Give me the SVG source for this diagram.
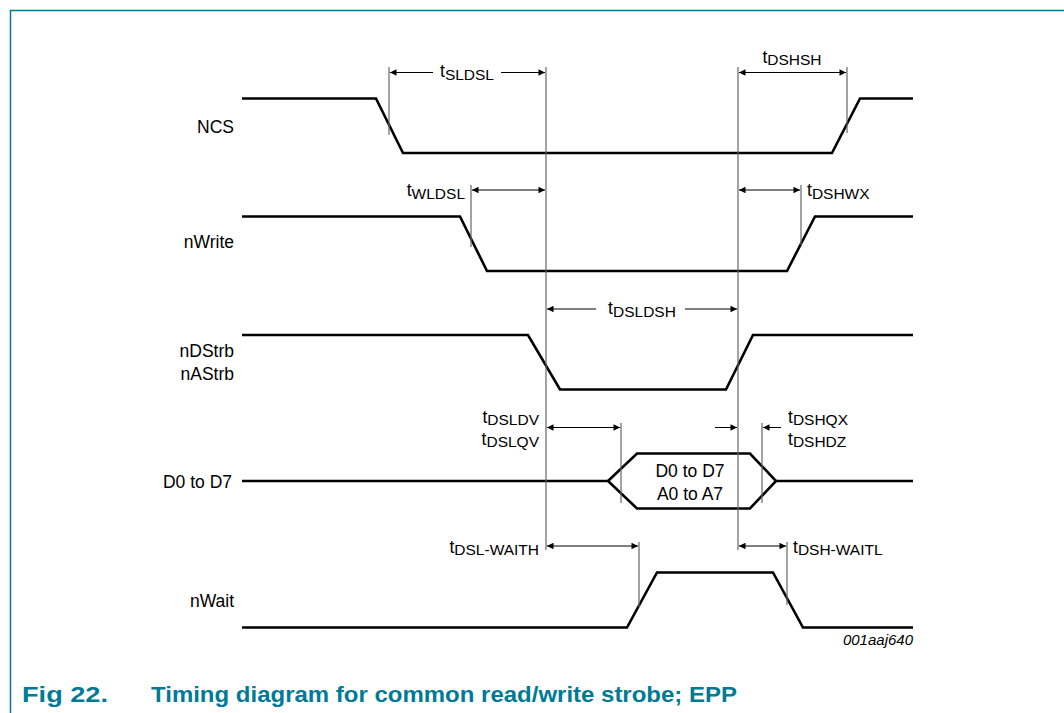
<svg xmlns="http://www.w3.org/2000/svg" width="1064" height="713" viewBox="0 0 1064 713">
<style>
.sig{fill:none;stroke:#000;stroke-width:2.6;stroke-linejoin:miter}
.ref{stroke:#666;stroke-width:1.2;fill:none}
.arr{stroke:#000;stroke-width:1;fill:none}
.lbl{font-family:"Liberation Sans",Arial,sans-serif;font-size:17.5px;fill:#000}
.sub{font-size:15.5px}
.id{font-family:"Liberation Sans",Arial,sans-serif;font-size:15px;font-style:italic;fill:#000}
.cap{font-family:"Liberation Sans",Arial,sans-serif;font-size:21.5px;font-weight:bold;fill:#007a96}
</style>
<defs>
<marker id="ah" viewBox="0 0 10 10" refX="10" refY="5" markerWidth="10" markerHeight="6.5" markerUnits="userSpaceOnUse" orient="auto-start-reverse">
<path d="M0,0 L10,5 L0,10 z" fill="#000"/>
</marker>
</defs>
<rect width="1064" height="713" fill="#fff"/>
<path d="M10.5,713 V10.5 H1064" fill="none" stroke="#007a96" stroke-width="1.5"/>

<g id="signals">
<g id="ncs">
<text class="lbl" x="234" y="133" text-anchor="end">NCS</text>
<polyline class="sig" points="242,98.5 376,98.5 403,153 832,153 860,98.5 913,98.5"/>
</g>
<g id="nwrite">
<text class="lbl" x="234" y="248" text-anchor="end">nWrite</text>
<polyline class="sig" points="242,216.5 460,216.5 487,271 787,271 815,216.5 913,216.5"/>
</g>
<g id="ndstrb">
<text class="lbl" x="234" y="357" text-anchor="end">nDStrb</text>
<text class="lbl" x="234" y="380" text-anchor="end">nAStrb</text>
<polyline class="sig" points="242,335 528,335 560,389.5 726,389.5 753,335 913,335"/>
</g>
<g id="data">
<text class="lbl" x="232" y="488" text-anchor="end">D0 to D7</text>
<polyline class="sig" points="242,481 608,481"/>
<polygon class="sig" points="608,481 637,453.5 750,453.5 776,481 750,508.5 637,508.5"/>
<polyline class="sig" points="776,481 913,481"/>
<text class="lbl" x="690" y="477" text-anchor="middle">D0 to D7</text>
<text class="lbl" x="690" y="500" text-anchor="middle">A0 to A7</text>
</g>
<g id="nwait">
<text class="lbl" x="234" y="607" text-anchor="end">nWait</text>
<polyline class="sig" points="242,627.5 627,627.5 657,572.5 773,572.5 803,627.5 913,627.5"/>
</g>
</g>

<g id="connectors">
<line class="ref" x1="546" y1="67" x2="546" y2="550"/>
<line class="ref" x1="738" y1="67" x2="738" y2="550"/>
<line class="ref" x1="389" y1="67" x2="389" y2="135"/>
<line class="ref" x1="847" y1="67" x2="847" y2="133"/>
<line class="ref" x1="471" y1="185" x2="471" y2="247"/>
<line class="ref" x1="801" y1="185" x2="801" y2="245"/>
<line class="ref" x1="621" y1="423" x2="621" y2="503"/>
<line class="ref" x1="762" y1="423" x2="762" y2="503"/>
<line class="ref" x1="639" y1="542" x2="639" y2="607"/>
<line class="ref" x1="787" y1="542" x2="787" y2="605"/>

<line class="arr" x1="433" y1="72.5" x2="390" y2="72.5" marker-end="url(#ah)"/>
<line class="arr" x1="501" y1="72.5" x2="545" y2="72.5" marker-end="url(#ah)"/>
<line class="arr" x1="739" y1="72.5" x2="846" y2="72.5" marker-start="url(#ah)" marker-end="url(#ah)"/>
<line class="arr" x1="472" y1="190" x2="545" y2="190" marker-start="url(#ah)" marker-end="url(#ah)"/>
<line class="arr" x1="739" y1="190" x2="800" y2="190" marker-start="url(#ah)" marker-end="url(#ah)"/>
<line class="arr" x1="596" y1="309" x2="547" y2="309" marker-end="url(#ah)"/>
<line class="arr" x1="685" y1="309" x2="737" y2="309" marker-end="url(#ah)"/>
<line class="arr" x1="547" y1="427.5" x2="620" y2="427.5" marker-start="url(#ah)" marker-end="url(#ah)"/>
<line class="arr" x1="715" y1="427.5" x2="737" y2="427.5" marker-end="url(#ah)"/>
<line class="arr" x1="781" y1="427.5" x2="763" y2="427.5" marker-end="url(#ah)"/>
<line class="arr" x1="547" y1="546" x2="638" y2="546" marker-start="url(#ah)" marker-end="url(#ah)"/>
<line class="arr" x1="739" y1="546" x2="786" y2="546" marker-start="url(#ah)" marker-end="url(#ah)"/>
</g>

<g id="timing-labels">
<text class="lbl" x="467" y="77" text-anchor="middle">t<tspan class="sub" dy="2.5">SLDSL</tspan></text>
<text class="lbl" x="792" y="62.5" text-anchor="middle">t<tspan class="sub" dy="2.5">DSHSH</tspan></text>
<text class="lbl" x="465" y="196" text-anchor="end">t<tspan class="sub" dy="2.5">WLDSL</tspan></text>
<text class="lbl" x="807" y="196" text-anchor="start">t<tspan class="sub" dy="2.5">DSHWX</tspan></text>
<text class="lbl" x="642" y="314" text-anchor="middle">t<tspan class="sub" dy="2.5">DSLDSH</tspan></text>
<text class="lbl" x="539" y="422.5" text-anchor="end">t<tspan class="sub" dy="2.5">DSLDV</tspan></text>
<text class="lbl" x="539" y="444.5" text-anchor="end">t<tspan class="sub" dy="2.5">DSLQV</tspan></text>
<text class="lbl" x="788" y="422.5" text-anchor="start">t<tspan class="sub" dy="2.5">DSHQX</tspan></text>
<text class="lbl" x="788" y="444.5" text-anchor="start">t<tspan class="sub" dy="2.5">DSHDZ</tspan></text>
<text class="lbl" x="539" y="552.5" text-anchor="end">t<tspan class="sub" dy="2.5">DSL-WAITH</tspan></text>
<text class="lbl" x="793" y="552.5" text-anchor="start">t<tspan class="sub" dy="2.5">DSH-WAITL</tspan></text>
<text class="id" x="913" y="645" text-anchor="end">001aaj640</text>
</g>

<text class="cap" x="22" y="702" textLength="86" lengthAdjust="spacingAndGlyphs">Fig 22.</text>
<text class="cap" x="151" y="702" textLength="586" lengthAdjust="spacingAndGlyphs">Timing diagram for common read/write strobe; EPP</text>
</svg>
